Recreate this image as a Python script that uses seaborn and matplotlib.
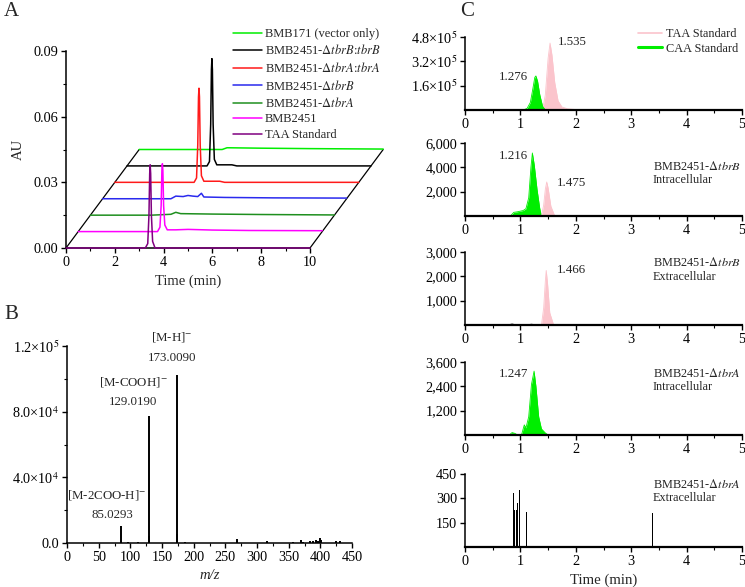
import numpy as np
import matplotlib
matplotlib.use("Agg")
import matplotlib.pyplot as plt
import matplotlib.ticker as ticker
import seaborn as sns

# ---------------- Panel A: HPLC traces (time in min, absorbance in AU) ----------------
a_labels = ["TAA Standard", "BMB2451", r"BMB2451-$\mathit{\Delta tbrA}$", r"BMB2451-$\mathit{\Delta tbrB}$",
            r"BMB2451-$\mathit{\Delta tbrA}$:$\mathit{tbrA}$", r"BMB2451-$\mathit{\Delta tbrB}$:$\mathit{tbrB}$",
            "BMB171 (vector only)"]
a_colors = ["#800080", "#ff00ff", "#1f8f1f", "#2a2aee", "#ff1a1a", "#000000", "#00ee00"]

taa_t = [0, 3.25, 3.35, 3.40, 3.43, 3.45, 3.47, 3.50, 3.55, 3.65, 10]
taa_au = [0, 0, 0.002, 0.015, 0.034, 0.038, 0.034, 0.015, 0.003, 0, 0]

bmb2451_t = [0, 3.25, 3.35, 3.40, 3.43, 3.45, 3.47, 3.50, 3.55, 3.65, 4.0, 4.5, 5.5, 7.0, 10]
bmb2451_au = [0, 0, 0.002, 0.012, 0.028, 0.031, 0.028, 0.012, 0.003, 0.0008, 0.0008, 0.0010, 0.0007, 0.0005, 0.0004]

dtbra_t = [0, 2.5, 3.3, 3.5, 3.7, 5.0, 7.0, 10]
dtbra_au = [0, 0, 0.0004, 0.0013, 0.0007, 0.0005, 0.0003, 0.0001]

dtbrb_t = [0, 2.8, 3.0, 3.3, 3.5, 3.7, 3.9, 4.05, 4.15, 5.0, 7.0, 10]
dtbrb_au = [0, 0, 0.0012, 0.0010, 0.0015, 0.0012, 0.0010, 0.0025, 0.0008, 0.0006, 0.0004, 0.0003]

cpa_t = [0, 3.25, 3.35, 3.40, 3.43, 3.45, 3.47, 3.50, 3.55, 3.65, 4.3, 4.5, 10]
cpa_au = [0, 0, 0.002, 0.017, 0.039, 0.043, 0.039, 0.017, 0.003, 0.0005, 0.0005, 0, 0]

cpb_t = [0, 3.28, 3.38, 3.43, 3.46, 3.48, 3.50, 3.53, 3.58, 3.68, 4.3, 4.5, 10]
cpb_au = [0, 0, 0.002, 0.019, 0.044, 0.049, 0.044, 0.019, 0.003, 0.0005, 0.0005, 0, 0]

bmb171_t = [0, 3.4, 3.6, 5.0, 7.0, 10]
bmb171_au = [0, 0, 0.0008, 0.0006, 0.0004, 0.0002]

a_times = [taa_t, bmb2451_t, dtbra_t, dtbrb_t, cpa_t, cpb_t, bmb171_t]
a_values = [taa_au, bmb2451_au, dtbra_au, dtbrb_au, cpa_au, cpb_au, bmb171_au]

# ---------------- Panel B: MS spectrum ----------------
ms_mz = [85.03, 97, 112, 129.02, 130.0, 173.01, 174.0, 187, 269, 316, 357, 369, 372, 384, 389, 393, 397, 400, 401, 424, 431]
ms_int = [10600, 800, 800, 77600, 4000, 102500, 5700, 800, 2400, 1200, 800, 1600, 800, 1200, 1200, 1600, 1200, 2800, 2000, 1200, 1000]

# ---------------- Panel C: LC-MS extracted ion chromatograms ----------------
c1_caa_t = [1.05, 1.12, 1.18, 1.22, 1.26, 1.28, 1.31, 1.35, 1.40, 1.45]
c1_caa_y = [0, 1e4, 5e4, 1.3e5, 2.15e5, 2.24e5, 1.9e5, 1.0e5, 2.5e4, 0]
c1_taa_t = [1.40, 1.45, 1.50, 1.535, 1.57, 1.62, 1.68, 1.75, 1.85, 2.0, 2.25]
c1_taa_y = [0, 1.0e5, 3.4e5, 4.4e5, 3.6e5, 1.8e5, 6e4, 2e4, 8e3, 3e3, 0]

c2_caa_t = [0.82, 0.88, 0.95, 1.0, 1.05, 1.1, 1.15, 1.19, 1.216, 1.25, 1.3, 1.35, 1.38]
c2_caa_y = [0, 300, 350, 400, 450, 600, 1500, 4000, 5180, 4200, 2200, 600, 0]
c2_taa_t = [1.38, 1.42, 1.45, 1.475, 1.5, 1.55, 1.62]
c2_taa_y = [0, 900, 2200, 2800, 2300, 800, 0]

c3_taa_t = [1.38, 1.42, 1.45, 1.466, 1.49, 1.53, 1.6]
c3_taa_y = [0, 700, 1800, 2240, 1700, 500, 0]
c3_noise_t = [0.8, 0.85, 0.9, 1.15, 1.2, 1.25]
c3_noise_y = [0, 60, 0, 0, 40, 0]

c4_caa_t = [0.8, 0.85, 0.9, 0.95, 1.02, 1.07, 1.1, 1.15, 1.2, 1.247, 1.28, 1.33, 1.38, 1.45, 1.5]
c4_caa_y = [0, 120, 80, 0, 0, 500, 350, 900, 2500, 3150, 2400, 900, 300, 100, 0]

c5_t = [0.875, 0.90, 0.93, 0.95, 0.975, 0.99, 1.11, 3.39]
c5_y = [331, 230, 230, 270, 352, 245, 215, 212]

c_peak_labels = [
    [("1.276", 0.88, 2.17e5), ("1.535", 1.93, 4.49e5)],
    [("1.216", 0.87, 4930), ("1.475", 1.93, 2740)],
    [("1.466", 1.93, 2240)],
    [("1.247", 0.88, 3000)],
    [],
]
c_sample_text = [None,
                 r"BMB2451-$\mathit{\Delta tbrB}$" + "\nIntracellular",
                 r"BMB2451-$\mathit{\Delta tbrB}$" + "\nExtracellular",
                 r"BMB2451-$\mathit{\Delta tbrA}$" + "\nIntracellular",
                 r"BMB2451-$\mathit{\Delta tbrA}$" + "\nExtracellular"]
c_text_y = [None, 3530, 2280, 2700, 344]
c_ymax = [4.8e5, 6000, 3000, 3600, 450]
c_yticks = [[1.6e5, 3.2e5, 4.8e5], [2000, 4000, 6000], [1000, 2000, 3000], [1200, 2400, 3600], [150, 300, 450]]
c_yticklabels = [[r"1.6×10$^5$", r"3.2×10$^5$", r"4.8×10$^5$"], ["2,000", "4,000", "6,000"],
                 ["1,000", "2,000", "3,000"], ["1,200", "2,400", "3,600"], ["150", "300", "450"]]

PINK = "#fbc4cc"
LIME = "#00ee00"

sns.set_style("ticks")
plt.rcParams["font.family"] = ["Liberation Serif", "DejaVu Serif"]
plt.rcParams["mathtext.fontset"] = "stix"
plt.rcParams["xtick.major.size"] = 3.5
plt.rcParams["ytick.major.size"] = 3.5
plt.rcParams["xtick.minor.size"] = 2
plt.rcParams["ytick.minor.size"] = 2
plt.rcParams["xtick.color"] = "black"
plt.rcParams["ytick.color"] = "black"

W, H = 745, 587
fig = plt.figure(figsize=(W / 100, H / 100), dpi=100)


def box(l, t, r, b):
    return [l / W, 1 - b / H, (r - l) / W, (b - t) / H]


def style(ax, fs=10.3):
    for s in ["top", "right"]:
        ax.spines[s].set_visible(False)
    for s in ["left", "bottom"]:
        ax.spines[s].set_color("black")
        ax.spines[s].set_linewidth(1.1)
    ax.tick_params(labelsize=fs, width=1, pad=2)
    ax.tick_params(which="minor", width=0.8)


# ---- A ----
axA = fig.add_axes(box(66, 51, 310, 248))
dx, dy = 0.5, 0.0075
for i in reversed(range(len(a_labels))):
    x = np.array(a_times[i]) + i * dx
    y = np.array(a_values[i]) + i * dy
    sns.lineplot(x=x, y=y, ax=axA, color=a_colors[i], label=a_labels[i], sort=False,
                 estimator=None, lw=1.1, clip_on=False, zorder=3 + (6 - i))
axA.plot([0, 6 * dx], [0, 6 * dy], color="black", lw=0.9, clip_on=False, zorder=2)
axA.plot([10, 10 + 6 * dx], [0, 6 * dy], color="black", lw=0.9, clip_on=False, zorder=2)
axA.set_xlim(0, 10)
axA.set_ylim(0, 0.09)
axA.set_xticks([0, 2, 4, 6, 8, 10])
axA.xaxis.set_minor_locator(ticker.MultipleLocator(1))
axA.set_yticks([0, 0.03, 0.06, 0.09])
axA.yaxis.set_minor_locator(ticker.MultipleLocator(0.015))
axA.yaxis.set_major_formatter(ticker.FormatStrFormatter("%.2f"))
style(axA)
axA.set_xlabel("Time (min)", fontsize=10.5, labelpad=4)
axA.set_ylabel("AU", fontsize=10.5, labelpad=6)
axA.legend(loc="upper left", bbox_to_anchor=(233 / W, 1 - 28 / H), bbox_transform=fig.transFigure,
           frameon=False, fontsize=9, handlelength=2.3, handletextpad=0.25, labelspacing=0.28,
           borderpad=0, borderaxespad=0)

# ---- B ----
axB = fig.add_axes(box(67, 346, 352, 543))
axB.vlines(ms_mz, 0, ms_int, color="black", lw=1.4)
axB.set_xlim(0, 450)
axB.set_ylim(0, 1.2e5)
axB.set_xticks(range(0, 451, 50))
axB.xaxis.set_minor_locator(ticker.MultipleLocator(25))
axB.set_yticks([0, 4e4, 8e4, 1.2e5])
axB.set_yticklabels(["0.0", r"4.0×10$^4$", r"8.0×10$^4$", r"1.2×10$^5$"])
axB.yaxis.set_minor_locator(ticker.MultipleLocator(2e4))
style(axB)
axB.set_xlabel("m/z", fontsize=10.5, style="italic", labelpad=4)
b_notes = [(r"[M-H]$^{-}$", 166, 1.255e5), ("173.0090", 166, 1.127e5),
           (r"[M-COOH]$^{-}$", 105, 0.98e5), ("129.0190", 105, 0.86e5),
           (r"[M-2COO-H]$^{-}$", 63, 0.292e5), ("85.0293", 71, 0.17e5)]
for txt, xx, yy in b_notes:
    axB.text(xx, yy, txt, ha="center", va="center", fontsize=9.3)

# ---- C ----
c_bottoms = [110, 216, 325, 435, 547]
c_fills = [
    [(c1_taa_t, c1_taa_y, PINK), (c1_caa_t, c1_caa_y, LIME)],
    [(c2_caa_t, c2_caa_y, LIME), (c2_taa_t, c2_taa_y, PINK)],
    [(c3_taa_t, c3_taa_y, PINK)],
    [(c4_caa_t, c4_caa_y, LIME)],
    [],
]
for k in range(5):
    b = c_bottoms[k]
    ax = fig.add_axes(box(465, b - 73, 742, b))
    for tt, yy, col in c_fills[k]:
        ax.fill_between(tt, 0, yy, color=col, lw=0, zorder=2)
        sns.lineplot(x=tt, y=yy, ax=ax, color=col, lw=0.6, sort=False, estimator=None, zorder=2)
    if k == 0:
        ax.plot([], [], color=PINK, lw=1.2, label="TAA Standard")
        ax.plot([], [], color=LIME, lw=2.2, label="CAA Standard")
        ax.legend(loc="upper left", bbox_to_anchor=(638 / W, 1 - 28 / H), bbox_transform=fig.transFigure,
                  frameon=False, fontsize=8.8, handlelength=2.0, handletextpad=0.25, labelspacing=0.22,
                  borderpad=0, borderaxespad=0)
    if k == 2:
        sns.lineplot(x=c3_noise_t, y=c3_noise_y, ax=ax, color="#999999", lw=0.8, sort=False, estimator=None)
    if k == 4:
        ax.bar(c5_t, c5_y, width=0.018, color="black", lw=0, zorder=2)
    for txt, xx, yy in c_peak_labels[k]:
        ax.text(xx, yy, txt, ha="center", va="center", fontsize=9.4)
    if c_sample_text[k]:
        ax.text(3.39, c_text_y[k], c_sample_text[k], ha="left", va="center", fontsize=8.8, linespacing=1.15)
    ax.set_xlim(0, 5)
    ax.set_ylim(0, c_ymax[k])
    ax.set_xticks(range(6))
    ax.xaxis.set_minor_locator(ticker.MultipleLocator(0.5))
    ax.set_yticks(c_yticks[k])
    ax.set_yticklabels(c_yticklabels[k])
    style(ax)
    ax.spines["bottom"].set_linewidth(1.6)
    ax.set_xlabel("")
    ax.set_ylabel("")
    if k == 4:
        ax.set_xlabel("Time (min)", fontsize=10.6, labelpad=4)

fig.text(4 / W, 1 - 2 / H, "A", fontsize=15, va="top")
fig.text(4 / W, 1 - 305 / H, "B", fontsize=15, va="top")
fig.text(460 / W, 1 - 2 / H, "C", fontsize=15, va="top")

fig.savefig("out.png", dpi=100)
